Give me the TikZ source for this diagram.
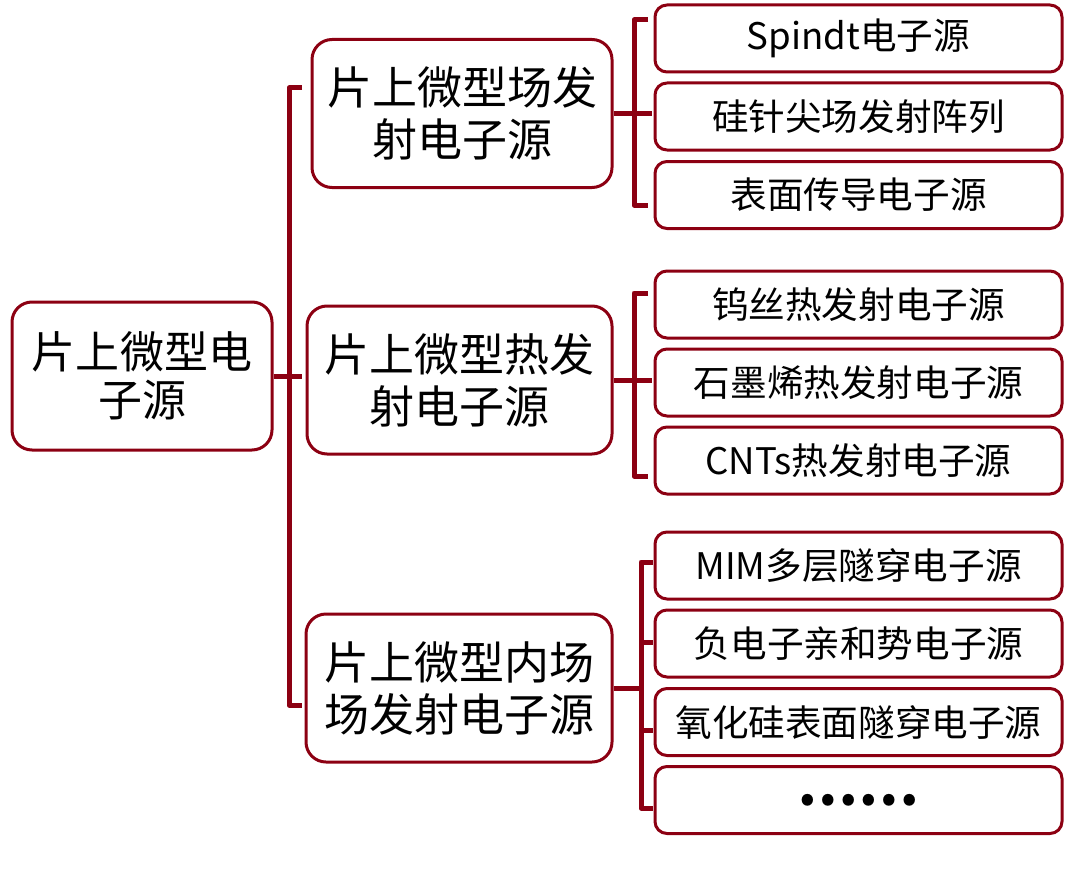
\documentclass[tikz,border=0pt]{standalone}
\usepackage{fontspec}
\setmainfont{Noto Sans CJK SC}
\usetikzlibrary{calc}
\definecolor{boxred}{RGB}{140,0,18}

\begin{document}
\begin{tikzpicture}[x=0.5pt,y=-0.5pt,line join=round,
        root/.style={draw=boxred,line width=1.5pt,rounded corners=10pt,
            minimum width=130pt,minimum height=74pt,align=center,
            font=\fontsize{22}{24}\selectfont,inner sep=0pt},
        mid/.style={draw=boxred,line width=1.5pt,rounded corners=10pt,
            minimum height=74pt,align=center,
            font=\fontsize{22.5}{26}\selectfont,inner sep=0pt},
        leaf/.style={draw=boxred,line width=1.5pt,rounded corners=6pt,
            minimum width=203.5pt,minimum height=33.5pt,
            font=\fontsize{18.3}{20}\selectfont,inner sep=0pt},
        bracket/.style={draw=boxred,line width=2.5pt}]
        % keep the page at the size of the reference
        \useasboundingbox (0,0) rectangle (1069,872);

        % the root and the three kinds
        \node[root] (root) at (142,376) {片上微型电\\子源};
        \node[mid,minimum width=150pt] (field) at (462,113.5) {片上微型场发\\射电子源};
        \node[mid,minimum width=152.5pt] (therm) at (459.5,380) {片上微型热发\\射电子源};
        \node[mid,minimum width=153pt] (inner) at (459,688) {片上微型内场\\场发射电子源};

        % the leaves
        \foreach \name/\y/\txt in {
            % field emission
            spindt/38.5/Spindt电子源,
            silicon/116.5/硅针尖场发射阵列,
            surface/195/表面传导电子源,
            % thermal emission
            tungsten/304.5/钨丝热发射电子源,
            graphene/382.5/石墨烯热发射电子源,
            cnt/460.5/CNTs热发射电子源,
            % inner field emission
            mim/565.5/MIM多层隧穿电子源,
            nea/643.5/负电子亲和势电子源,
            oxide/722/氧化硅表面隧穿电子源}
                \node[leaf] (\name) at (858.5,\y) {\txt};
        \node[leaf,font=\fontsize{27}{28}\bfseries\selectfont] (more) at (858.5,800) {……};

        % bracket from the root to the three kinds
        \draw[bracket] (root.east) -- ++(28,0);
        \draw[bracket] (302,88) -| (289,705) -- (302,705);

        % bracket of the field emission leaves
        \draw[bracket] (field.east) -- ++(38,0);
        \draw[bracket] (648,20) -| (634,205) -- (648,205);

        % bracket of the thermal emission leaves
        \draw[bracket] (therm.east) -- ++(38,0);
        \draw[bracket] (648,293) -| (634,476) -- (648,476);

        % bracket of the inner field emission leaves
        \draw[bracket] (inner.east) -- ++(29,0);
        \draw[bracket] (653,562) -| (641,808) -- (653,808);
        \foreach \y in {642,730}
                \draw[bracket] (641,\y) -- (653,\y);
\end{tikzpicture}
\end{document}
